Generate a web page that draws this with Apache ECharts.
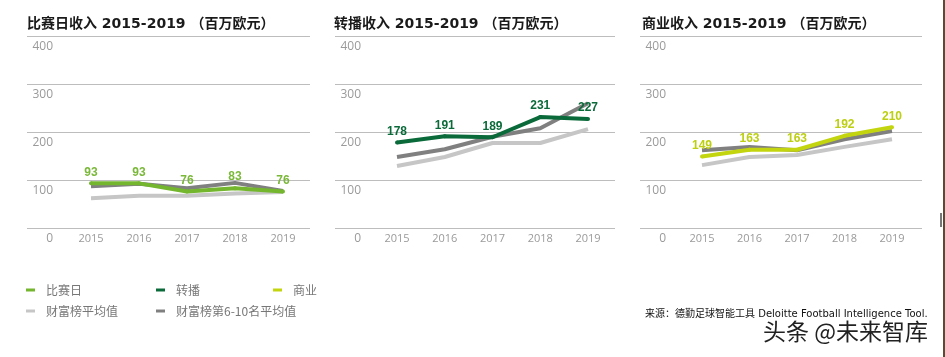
<!DOCTYPE html>
<html>
<head>
<meta charset="utf-8">
<script src="https://cdn.jsdelivr.net/npm/echarts@6/dist/echarts.min.js"></script>
<style>html,body{margin:0;padding:0;background:#fff}#c{width:945px;height:357px}</style>
</head>
<body>
<div id="c"></div>
<script>
const years = ['2015', '2016', '2017', '2018', '2019'];
const yMin = 0, yMax = 400, yStep = 100;
const titles = ['比赛日收入 2015-2019 （百万欧元）', '转播收入 2015-2019 （百万欧元）', '商业收入 2015-2019 （百万欧元）'];
const mainNames = ['比赛日', '转播', '商业'];
const avgName = '财富榜平均值';
const top610Name = '财富榜第6-10名平均值';
const matchday = [93, 93, 76, 83, 76];
const matchdayAvg = [62, 67, 67, 72, 75];
const matchdayTop610 = [87, 92, 83, 94, 77];
const broadcast = [178, 191, 189, 231, 227];
const broadcastAvg = [129, 148, 177, 177, 206];
const broadcastTop610 = [148, 164, 190, 208, 260];
const commercial = [149, 163, 163, 192, 210];
const commercialAvg = [131, 148, 152, 169, 185];
const commercialTop610 = [162, 169, 162, 185, 202];
const sourceText = '来源：德勤足球智能工具 Deloitte Football Intelligence Tool.';
const watermark = '头条 @未来智库';

const mainData = [matchday, broadcast, commercial];
const avgData = [matchdayAvg, broadcastAvg, commercialAvg];
const topData = [matchdayTop610, broadcastTop610, commercialTop610];
const mainColors = ['#74b72e', '#0b6a3a', '#c3d50e'];
const labelColors = ['#7ab83a', '#0b6a3a', '#bccf10'];
const avgColor = '#c6c6c6';
const topColor = '#808080';

// layout
const bgLeft = [27, 335, 640], bgRight = [310, 615, 922];
const dLeft = [91, 397, 702], dRight = [283, 588, 892];
const gTop = 36, gHeight = 192;

const grid = [], xAxis = [], yAxis = [], series = [], graphic = [];
for (let i = 0; i < 3; i++) {
  grid.push({left: bgLeft[i], top: gTop, width: bgRight[i] - bgLeft[i], height: gHeight});
  grid.push({left: dLeft[i], top: gTop, width: dRight[i] - dLeft[i], height: gHeight});
  xAxis.push({type: 'category', gridIndex: 2 * i, data: years, show: false});
  xAxis.push({type: 'category', gridIndex: 2 * i + 1, data: years, boundaryGap: false,
    axisLine: {show: false}, axisTick: {show: false},
    axisLabel: {color: '#9a9a9a', fontSize: 11, fontFamily: 'Open Sans', margin: 5}});
  yAxis.push({type: 'value', gridIndex: 2 * i, min: yMin, max: yMax, interval: yStep,
    axisLine: {show: false}, axisTick: {show: false},
    splitLine: {lineStyle: {color: '#bdbdbd', width: 1}},
    axisLabel: {color: '#9a9a9a', fontSize: 12, fontFamily: 'Open Sans', margin: -26,
      align: 'right', verticalAlign: 'top', padding: [5, 0, 0, 0]}});
  yAxis.push({type: 'value', gridIndex: 2 * i + 1, min: yMin, max: yMax, interval: yStep, show: false,
    splitLine: {show: false}});
  const xi = 2 * i + 1, yi = 2 * i + 1;
  series.push({type: 'line', name: avgName, xAxisIndex: xi, yAxisIndex: yi, data: avgData[i],
    showSymbol: false, symbol: 'circle', lineStyle: {color: avgColor, width: 4}, itemStyle: {color: avgColor},
    emphasis: {disabled: true}, z: 2});
  series.push({type: 'line', name: top610Name, xAxisIndex: xi, yAxisIndex: yi, data: topData[i],
    showSymbol: false, symbol: 'circle', lineStyle: {color: topColor, width: 4}, itemStyle: {color: topColor},
    emphasis: {disabled: true}, z: 3});
  series.push({type: 'line', name: mainNames[i], xAxisIndex: xi, yAxisIndex: yi, data: mainData[i],
    symbol: 'circle', symbolSize: 4, lineStyle: {color: mainColors[i], width: 4}, itemStyle: {color: mainColors[i]},
    emphasis: {disabled: true}, z: 4,
    label: {show: true, position: 'top', distance: 3, color: labelColors[i], fontSize: 12, fontWeight: 'bold',
      fontFamily: 'Liberation Sans'}});
  graphic.push({type: 'text', left: [27, 334, 642][i], top: 17,
    style: {text: titles[i], font: 'bold 14px "DejaVu Sans", "Noto Sans CJK SC"', fill: '#1a1a1a'}});
}

graphic.push({type: 'text', left: 645, top: 309,
  style: {text: sourceText, font: '10px "DejaVu Sans", "Noto Sans CJK SC"', fill: '#111'}});
graphic.push({type: 'text', left: 762, top: 319,
  style: {text: watermark, font: '23px "Noto Sans CJK SC"', fill: '#222', stroke: '#fff', lineWidth: 2}});
graphic.push({type: 'rect', left: 943, top: 0, shape: {width: 2, height: 357}, style: {fill: '#5b4b35'}});
graphic.push({type: 'rect', left: 940, top: 213, shape: {width: 2, height: 14}, style: {fill: '#777'}});

const legendBase = {icon: 'rect', itemWidth: 9, itemHeight: 3, padding: 0, selectedMode: false,
  textStyle: {color: '#777', fontSize: 12, fontFamily: 'Noto Sans CJK SC', padding: [0, 0, 0, 6]}};
const legend = [
  Object.assign({}, legendBase, {data: ['比赛日'], left: 26, top: 284}),
  Object.assign({}, legendBase, {data: ['转播'], left: 156, top: 284}),
  Object.assign({}, legendBase, {data: ['商业'], left: 273, top: 284}),
  Object.assign({}, legendBase, {data: [avgName], left: 26, top: 305}),
  Object.assign({}, legendBase, {data: [top610Name], left: 156, top: 305})
];

const chart = echarts.init(document.getElementById('c'), null, {renderer: 'canvas'});
chart.setOption({backgroundColor: '#fff', animation: false, grid, xAxis, yAxis, series, legend, graphic});
</script>
</body>
</html>
